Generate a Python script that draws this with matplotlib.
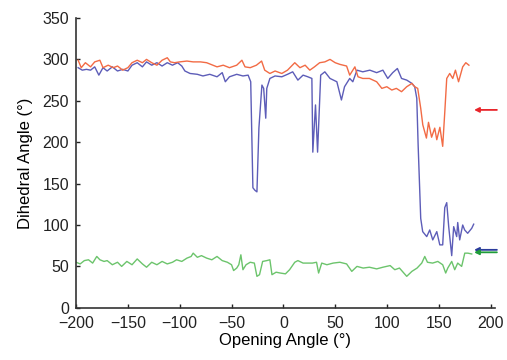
import matplotlib
matplotlib.use("Agg")
import matplotlib.pyplot as plt

plt.rcParams['font.family'] = ['Liberation Sans', 'DejaVu Sans']

# Opening angle (x) and dihedral angle (y) for three dihedrals
red_x = [-198, -195, -191, -186, -182, -177, -174, -169, -164, -160, -155, -150, -146, -141,
         -136, -132, -127, -122, -117, -112, -109, -105, -100, -93, -87, -80, -74, -68, -64,
         -58, -52, -45, -40, -37, -32, -26, -21, -18, -13, -8, -1.5, 4, 11, 16, 21, 25.5, 30,
         35, 40, 45, 50, 54.5, 61, 64, 69, 72, 76.6, 83, 90, 95, 99.8, 104.6, 109, 114, 119,
         124, 126.7, 129.6, 132.5, 134.5, 138, 140, 143, 146, 148, 151, 153.7, 155.7, 157.6,
         160.5, 163.4, 166, 169, 173, 176, 179]
red_y = [299, 290, 296, 291, 297, 299, 290, 293, 290, 292, 287, 290, 296, 299,
         296, 300, 296, 293, 299, 302, 297, 296, 297, 298, 297, 297, 296, 293, 291,
         293, 290, 293, 299, 291, 290, 293, 298, 287, 283, 286, 283, 287, 296, 290, 293, 287, 291,
         296, 297, 300, 296, 294, 292, 281, 291, 279, 277, 277, 273, 265, 267, 263, 265, 261, 267,
         271, 267, 265, 241, 221, 205, 224, 206, 217, 203, 218, 195, 236, 277,
         283, 277, 287, 273, 291, 296, 293]

blue_x = [-198, -194, -190, -186, -182, -178, -174, -170, -165, -160, -155, -150, -146, -141,
          -136, -132, -127, -122, -117, -112, -107, -102, -98, -95, -90, -83, -77.6, -71, -64,
          -59, -56, -52, -45, -39, -34, -31.5, -29.4, -27.5, -25.5, -23.6, -20.7, -19, -17, -16,
          -13, -8, -1.5, 4, 9, 14, 19, 23.6, 27.5, 28.4, 31, 33, 36, 40, 45, 51.6, 56, 59, 64,
          67, 71, 76.6, 83.4, 90, 96, 100.7, 105.5, 110, 114, 119, 124, 126.7, 128.7, 130,
          132.5, 134.4, 138.3, 141.2, 144.1, 148, 150.9, 153.7, 155.7, 157.6, 159.5, 162.4,
          164.3, 167.2, 168.2, 170.1, 173, 174.9, 177.8, 181.7, 183.6]
blue_y = [290, 287, 288, 287, 291, 281, 290, 286, 291, 286, 288, 286, 293, 296,
          291, 297, 293, 296, 292, 296, 293, 296, 292, 286, 283, 282, 280, 282, 279,
          284, 273, 279, 282, 280, 281, 273, 145, 142, 140, 217, 269, 265, 229, 265,
          277, 280, 279, 282, 285, 275, 281, 279, 277, 188, 245, 188, 281, 285, 277, 273, 251, 267, 277,
          273, 287, 285, 287, 284, 287, 277, 284, 289, 277, 275, 271, 267, 253, 197,
          108, 92, 86, 94, 82, 92, 76, 76, 121, 127, 98, 63,
          98, 86, 103, 82, 100, 94, 90, 96, 101]

green_x = [-200, -196, -192, -188, -184, -180, -177, -173, -170, -165, -160, -156, -151, -146,
           -141, -136, -132, -127, -122, -117, -112, -107, -103, -98, -93, -89, -87, -83, -79,
           -74, -69, -64, -59, -54, -50, -48, -45, -43, -41, -39, -36, -32, -28, -25.5, -23,
           -20, -16, -13, -11, -7, -3, 2, 6, 11, 14, 19, 24, 28, 32, 34, 37, 42, 48, 54.5, 61,
           66, 71, 77, 83, 90, 96, 103, 107.5, 112, 119, 124, 129, 133.5, 136.4, 139, 144, 149,
           153.7, 156.6, 158.6, 162.4, 165.3, 168.2, 172, 175, 178, 181.7]
green_y = [55, 53, 57, 58, 54, 62, 58, 56, 57, 52, 55, 50, 56, 52,
           59, 53, 49, 55, 52, 56, 53, 55, 58, 56, 60, 62, 66, 61, 63,
           60, 58, 62, 57, 55, 52, 45, 48, 52, 64, 46, 52, 55, 54, 38, 40,
           56, 57, 58, 40, 43, 42, 41, 46, 55, 57, 54, 54, 54, 55, 42, 54, 52, 54, 55, 53,
           44, 50, 48, 49, 47, 49, 51, 46, 48, 38, 44, 48, 54, 62, 55, 54, 56,
           52, 42, 48, 56, 46, 54, 50, 66, 66, 65]

# Arrow markers on the right (reference dihedral values)
arrow_y = [239, 70, 67]
arrow_colors = ['#e8252b', '#2b3b9c', '#1f9c3a']

x_ticks = [-200, -150, -100, -50, 0, 50, 100, 150, 200]
y_ticks = [0, 50, 100, 150, 200, 250, 300, 350]

fig = plt.figure(figsize=(5.07, 3.60), dpi=100)
ax = fig.add_axes([0.150, 0.145, 0.826, 0.805])

ax.plot(green_x, green_y, color='#6cc46c', lw=1.0)
ax.plot(blue_x, blue_y, color='#5d5db8', lw=1.0)
ax.plot(red_x, red_y, color='#f26b45', lw=1.0)

for yv, c in zip(arrow_y, arrow_colors):
    ax.annotate('', xy=(184, yv), xytext=(206, yv),
                arrowprops=dict(arrowstyle='-|>', color=c, lw=1.3,
                                mutation_scale=7, shrinkA=0, shrinkB=0),
                annotation_clip=False)

ax.set_xlim(-200, 204)
ax.set_ylim(0, 350)
ax.set_xticks(x_ticks)
ax.set_yticks(y_ticks)
ax.spines['top'].set_visible(False)
ax.spines['right'].set_visible(False)
for s in ['left', 'bottom']:
    ax.spines[s].set_linewidth(1.2)
    ax.spines[s].set_color('#333333')
ax.tick_params(direction='in', length=3, width=1, labelsize=11.5, colors='#222222')
ax.tick_params(axis='x', pad=6)
ax.tick_params(axis='y', pad=5)
ax.set_xlabel('Opening Angle (°)', fontsize=12, labelpad=1)
ax.set_ylabel('Dihedral Angle (°)', fontsize=12, labelpad=7)

fig.savefig('out.png', dpi=100)
